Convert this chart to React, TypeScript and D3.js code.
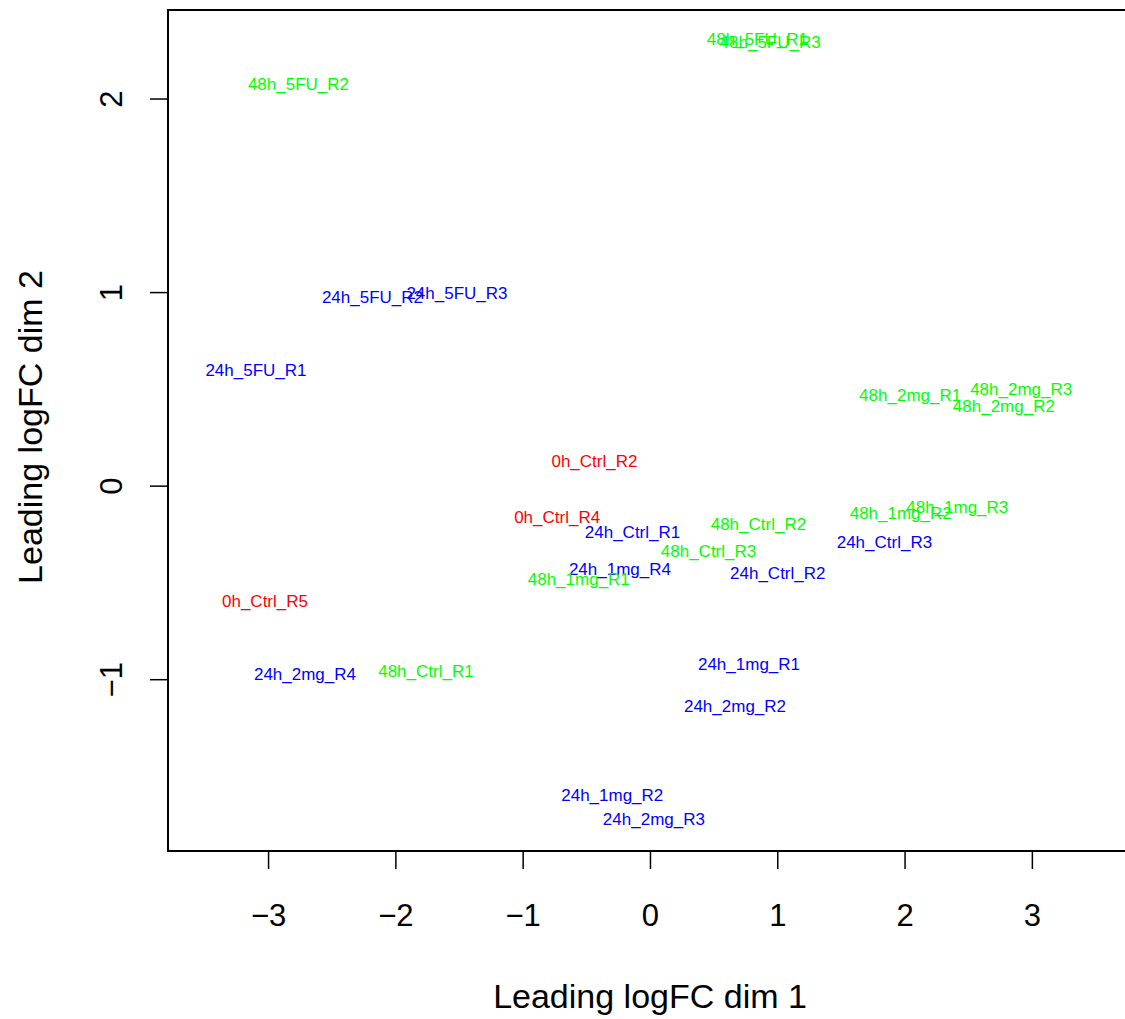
import * as d3 from "d3";

// подписи образцов и координаты MDS
const samples = [
  "48h_5FU_R1", "48h_5FU_R3", "48h_5FU_R2",
  "48h_2mg_R1", "48h_2mg_R3", "48h_2mg_R2",
  "48h_1mg_R2", "48h_1mg_R3", "24h_Ctrl_R3",
  "0h_Ctrl_R4", "24h_Ctrl_R1", "48h_Ctrl_R2",
  "48h_Ctrl_R3", "24h_1mg_R4", "48h_1mg_R1",
  "24h_Ctrl_R2", "0h_Ctrl_R2", "0h_Ctrl_R5",
  "24h_5FU_R2", "24h_5FU_R3", "24h_5FU_R1",
  "24h_2mg_R4", "48h_Ctrl_R1", "24h_1mg_R1",
  "24h_2mg_R2", "24h_1mg_R2", "24h_2mg_R3",
];
const dim1 = [
  0.84, 0.94, -2.765,
  2.04, 2.912, 2.776,
  1.966, 2.41, 1.838,
  -0.733, -0.141, 0.848,
  0.456, -0.24, -0.563,
  1.0, -0.44, -3.028,
  -2.184, -1.52, -3.099,
  -2.714, -1.764, 0.774,
  0.664, -0.3, 0.027,
];
const dim2 = [
  2.31, 2.295, 2.077,
  0.472, 0.5, 0.415,
  -0.14, -0.105, -0.286,
  -0.157, -0.238, -0.195,
  -0.334, -0.427, -0.479,
  -0.446, 0.131, -0.592,
  0.979, 0.997, 0.601,
  -0.969, -0.954, -0.918,
  -1.134, -1.593, -1.718,
];
const xTicks = [-3, -2, -1, 0, 1, 2, 3];
const yTicks = [-1, 0, 1, 2];

const timeColor: Record<string, string> = {
  "0h": "#ff0000",
  "24h": "#0000ff",
  "48h": "#00ff00",
};

const W = 1125;
const H = 1019;
const left = 168;
const top = 10;
const bottom = 851;

const x = d3.scaleLinear().domain([-3.79, 3.76]).range([left, left + 7.55 * 127.3]);
const y = d3.scaleLinear().domain([-1.885, 2.46]).range([bottom, top]);

const font = "'Liberation Sans', Arial, Helvetica, sans-serif";

export default function App() {
  const right = x.range()[1];
  return (
    <svg
      width={W}
      height={H}
      style={{ position: "absolute", left: 0, top: 0, background: "#fff" }}
      fontFamily={font}
    >
      {/* рамка */}
      <rect
        x={left}
        y={top}
        width={right - left}
        height={bottom - top}
        fill="none"
        stroke="#000"
        strokeWidth={2}
      />

      {/* ось X */}
      {xTicks.map((t) => (
        <g key={"x" + t}>
          <line x1={x(t)} x2={x(t)} y1={bottom} y2={bottom + 18} stroke="#000" strokeWidth={1.5} />
          <text x={x(t)} y={926} textAnchor="middle" fontSize={31}>
            {t < 0 ? "\u2212" + Math.abs(t) : t}
          </text>
        </g>
      ))}

      {/* ось Y */}
      {yTicks.map((t) => (
        <g key={"y" + t}>
          <line x1={left - 18} x2={left} y1={y(t)} y2={y(t)} stroke="#000" strokeWidth={1.5} />
          <text
            transform={`translate(122, ${y(t)}) rotate(-90)`}
            textAnchor="middle"
            fontSize={31}
          >
            {t < 0 ? "\u2212" + Math.abs(t) : t}
          </text>
        </g>
      ))}

      <text x={650} y={1008} textAnchor="middle" fontSize={34}>
        Leading logFC dim 1
      </text>
      <text transform="translate(42, 427) rotate(-90)" textAnchor="middle" fontSize={34}>
        Leading logFC dim 2
      </text>

      {/* подписи точек */}
      {samples.map((s, i) => (
        <text
          key={s}
          x={x(dim1[i])}
          y={y(dim2[i])}
          dy="0.36em"
          textAnchor="middle"
          fontSize={17}
          fill={timeColor[s.split("_")[0]]}
        >
          {s}
        </text>
      ))}
    </svg>
  );
}
